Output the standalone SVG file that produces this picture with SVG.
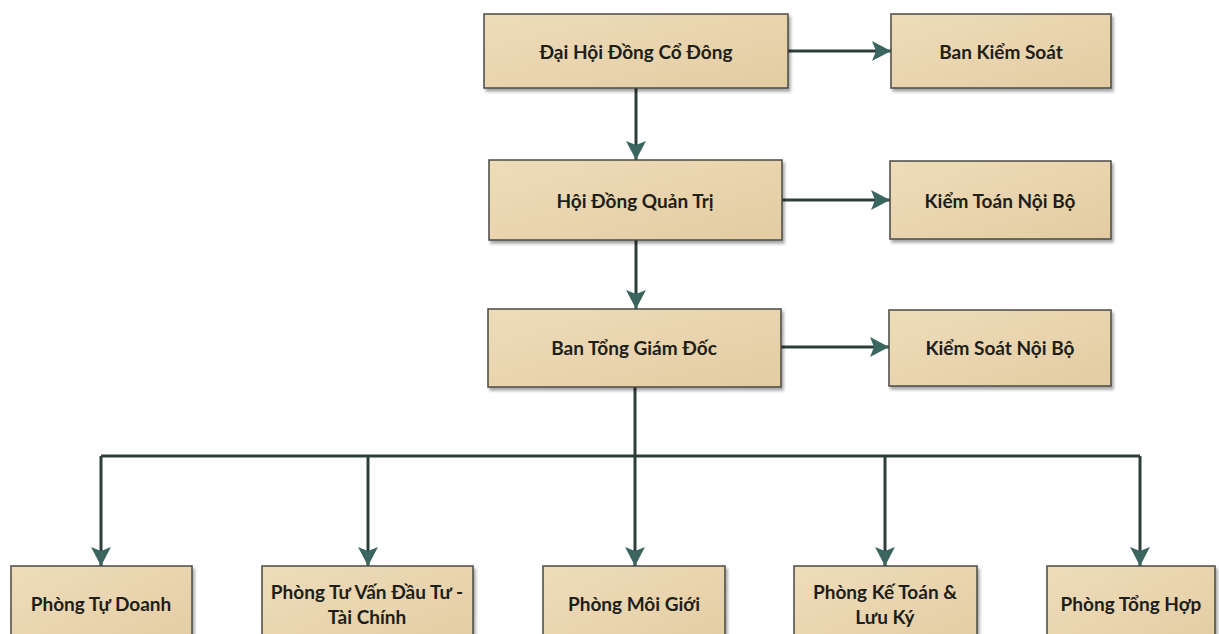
<svg xmlns="http://www.w3.org/2000/svg" width="1219" height="634" viewBox="0 0 1219 634">
<style>
.box{fill:url(#beige);stroke:#4a4a44;stroke-width:1.5;filter:url(#sh)}
.lbl{font-family:Lato,"Open Sans","Liberation Sans",sans-serif;font-weight:bold;font-size:19px;fill:#1e1e1a;text-anchor:middle;dominant-baseline:central}
.con{fill:none;stroke:#2c3f3b;stroke-width:3}
.arr{marker-end:url(#ah)}
</style>
<defs>
<linearGradient id="beige" x1="0" y1="0" x2="1" y2="1">
<stop offset="0" stop-color="#eedcba"/>
<stop offset="1" stop-color="#e3cca2"/>
</linearGradient>
<filter id="sh" x="-10%" y="-10%" width="120%" height="130%">
<feDropShadow dx="2" dy="3" stdDeviation="1.5" flood-color="#000" flood-opacity="0.35"/>
</filter>
<marker id="ah" markerUnits="userSpaceOnUse" markerWidth="22" markerHeight="22" refX="19" refY="11" orient="auto">
<path d="M0,1 L19,11 L0,21 L4,11 z" fill="#3b6660"/>
</marker>
</defs>
<g id="connectors">
<line class="con arr" x1="788" y1="51" x2="891" y2="51"/>
<line class="con arr" x1="782" y1="200" x2="890" y2="200"/>
<line class="con arr" x1="781" y1="347" x2="889" y2="347"/>
<line class="con arr" x1="636" y1="88" x2="636" y2="160"/>
<line class="con arr" x1="636" y1="240" x2="636" y2="309"/>
<polyline class="con" points="635,387 635,456"/>
<line class="con" x1="101" y1="456" x2="1140" y2="456"/>
<line class="con arr" x1="101" y1="456" x2="101" y2="566"/>
<line class="con arr" x1="368" y1="456" x2="368" y2="566"/>
<line class="con arr" x1="635" y1="456" x2="635" y2="566"/>
<line class="con arr" x1="885" y1="456" x2="885" y2="566"/>
<line class="con arr" x1="1140" y1="456" x2="1140" y2="566"/>
</g>
<g id="n-dhdcd"><rect class="box" x="484" y="14" width="304" height="74"/><text class="lbl" x="636" y="51">Đại Hội Đồng Cổ Đông</text></g>
<g id="n-bks"><rect class="box" x="891" y="14" width="220" height="74"/><text class="lbl" x="1001" y="51">Ban Kiểm Soát</text></g>
<g id="n-hdqt"><rect class="box" x="489" y="160" width="293" height="80"/><text class="lbl" x="635" y="200">Hội Đồng Quản Trị</text></g>
<g id="n-ktnb"><rect class="box" x="890" y="161" width="221" height="78"/><text class="lbl" x="1000" y="200">Kiểm Toán Nội Bộ</text></g>
<g id="n-btgd"><rect class="box" x="488" y="309" width="293" height="78"/><text class="lbl" x="634" y="347">Ban Tổng Giám Đốc</text></g>
<g id="n-ksnb"><rect class="box" x="889" y="310" width="222" height="76"/><text class="lbl" x="1000" y="347">Kiểm Soát Nội Bộ</text></g>
<g id="n-ptd"><rect class="box" x="11" y="566" width="181" height="90"/><text class="lbl" x="101" y="603">Phòng Tự Doanh</text></g>
<g id="n-ptv"><rect class="box" x="262" y="566" width="211" height="90"/><text class="lbl" x="367" y="591">Phòng Tư Vấn Đầu Tư -</text><text class="lbl" x="367" y="616">Tài Chính</text></g>
<g id="n-pmg"><rect class="box" x="543" y="566" width="182" height="90"/><text class="lbl" x="634" y="603">Phòng Môi Giới</text></g>
<g id="n-pkt"><rect class="box" x="794" y="566" width="183" height="90"/><text class="lbl" x="885" y="591">Phòng Kế Toán &amp;</text><text class="lbl" x="885" y="616">Lưu Ký</text></g>
<g id="n-pth"><rect class="box" x="1047" y="566" width="168" height="90"/><text class="lbl" x="1131" y="603">Phòng Tổng Hợp</text></g>
</svg>
